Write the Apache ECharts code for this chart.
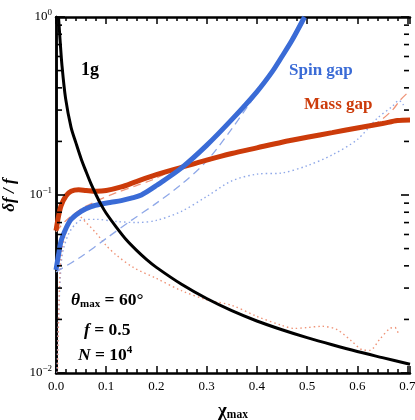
<!DOCTYPE html>
<html>
<head>
<meta charset="utf-8">
<script src="https://cdn.jsdelivr.net/npm/echarts@6/dist/echarts.min.js"></script>
<style>
  html, body { margin: 0; padding: 0; background: #fff; }
  #chart { width: 415px; height: 420px; }
</style>
</head>
<body>
<div id="chart"></div>
<script>
// values: [chi_max, delta f / f]
const black1g = [[0.005,1.0],[0.008,0.75],[0.012,0.53],[0.019,0.35],[0.03,0.24],[0.04,0.195],[0.05,0.16],[0.06,0.135],[0.07,0.115],[0.08,0.1],[0.09,0.088],[0.1,0.079],[0.12,0.066],[0.14,0.056],[0.16,0.049],[0.18,0.0435],[0.2,0.0392],[0.25,0.0315],[0.3,0.0262],[0.35,0.0224],[0.4,0.0196],[0.45,0.0175],[0.5,0.0158],[0.55,0.0144],[0.6,0.0132],[0.65,0.0122],[0.705,0.0112]];
const massGap = [[0.0,0.063],[0.005,0.076],[0.01,0.087],[0.02,0.099],[0.03,0.105],[0.045,0.107],[0.06,0.106],[0.08,0.105],[0.1,0.106],[0.13,0.111],[0.16,0.119],[0.2,0.13],[0.25,0.143],[0.3,0.157],[0.35,0.171],[0.4,0.184],[0.45,0.198],[0.5,0.211],[0.55,0.224],[0.6,0.238],[0.65,0.252],[0.68,0.262],[0.705,0.264]];
const spinGap = [[0.0,0.038],[0.005,0.046],[0.01,0.055],[0.02,0.065],[0.03,0.073],[0.05,0.081],[0.07,0.086],[0.09,0.089],[0.11,0.091],[0.13,0.093],[0.15,0.096],[0.17,0.1],[0.2,0.113],[0.25,0.142],[0.3,0.19],[0.35,0.265],[0.4,0.38],[0.43,0.49],[0.45,0.6],[0.47,0.74],[0.495,1.0]];
const spinDashed = [[0.0,0.037],[0.05,0.045],[0.1,0.057],[0.15,0.072],[0.2,0.09],[0.25,0.115],[0.3,0.155],[0.35,0.235],[0.38,0.31],[0.4,0.37],[0.43,0.49],[0.45,0.6],[0.47,0.74],[0.495,1.0]];
const massDashed = [[0.0,0.062],[0.02,0.072],[0.055,0.085],[0.09,0.095],[0.12,0.103],[0.16,0.113],[0.19,0.121],[0.23,0.136],[0.3,0.157],[0.4,0.184],[0.5,0.211],[0.6,0.238],[0.64,0.256],[0.67,0.3],[0.685,0.34],[0.698,0.37]];
const spinDotted = [[0.002,0.01],[0.005,0.02],[0.01,0.04],[0.015,0.05],[0.03,0.064],[0.055,0.073],[0.08,0.073],[0.12,0.071],[0.16,0.07],[0.2,0.072],[0.25,0.081],[0.3,0.098],[0.35,0.12],[0.4,0.131],[0.45,0.133],[0.5,0.146],[0.55,0.168],[0.6,0.205],[0.64,0.27],[0.67,0.315],[0.683,0.34],[0.692,0.32]];
const massDotted = [[0.003,0.01],[0.006,0.025],[0.01,0.045],[0.02,0.062],[0.03,0.072],[0.043,0.077],[0.06,0.07],[0.08,0.061],[0.1,0.052],[0.12,0.046],[0.155,0.039],[0.2,0.034],[0.25,0.029],[0.3,0.0258],[0.35,0.024],[0.4,0.0208],[0.45,0.0185],[0.475,0.0178],[0.5,0.018],[0.53,0.0183],[0.56,0.0175],[0.59,0.015],[0.61,0.0135],[0.625,0.0134],[0.645,0.0155],[0.665,0.0178],[0.675,0.018],[0.682,0.0166]];
const yMinorTicks = [0.02,0.03,0.04,0.05,0.06,0.07,0.08,0.09,0.2,0.3,0.4,0.5,0.6,0.7,0.8,0.9];
const yMajorTicks = [0.01, 0.1, 1];
const yTickLabels = { '1': '0', '0.1': '−1', '0.01': '−2' };

const X_MAX = 0.705;
const SERIF = '"Liberation Serif", "DejaVu Serif", serif';
const BLUE = '#3a6bd6';
const RED = '#cc3b0a';
const LIGHT_BLUE = '#8fa8e8';
const LIGHT_RED = '#ef9478';

const chart = echarts.init(document.getElementById('chart'));

const lineSeries = (data, color, width, type, z) => ({
  type: 'line',
  data: data,
  showSymbol: false,
  symbol: 'none',
  smooth: 0.3,
  clip: true,
  silent: true,
  z: z,
  lineStyle: { color: color, width: width, type: type }
});

const mathText = (left, top, text) => ({
  type: 'text', left: left, top: top,
  style: {
    text: text,
    rich: {
      i: { fontFamily: SERIF, fontSize: 17.5, fontWeight: 'bold', fontStyle: 'italic', fill: '#000', lineHeight: 20 },
      t: { fontFamily: SERIF, fontSize: 17.5, fontWeight: 'bold', fill: '#000', lineHeight: 20 },
      m: { fontFamily: SERIF, fontSize: 11, fontWeight: 'bold', fill: '#000', verticalAlign: 'bottom', lineHeight: 13 },
      s: { fontFamily: SERIF, fontSize: 11, fontWeight: 'bold', fill: '#000', verticalAlign: 'top', lineHeight: 11 }
    }
  }
});

// frame ticks for the log axis, placed through the y scale
const yTickSeries = (ticks, len) => ({
  type: 'custom',
  silent: true,
  clip: false,
  zlevel: 1,
  z: 10,
  data: ticks.map(v => [0, v]),
  renderItem: (params, api) => {
    const cs = params.coordSys;
    const y = api.coord([0, api.value(1)])[1];
    const x0 = cs.x + 1;
    const x1 = cs.x + cs.width - 1;
    return {
      type: 'group',
      children: [
        { type: 'line', shape: { x1: x0, y1: y, x2: x0 + len, y2: y }, style: { stroke: '#000', lineWidth: 1.6 } },
        { type: 'line', shape: { x1: x1 - len, y1: y, x2: x1, y2: y }, style: { stroke: '#000', lineWidth: 1.6 } }
      ]
    };
  }
});

const option = {
  animation: false,
  textStyle: { fontFamily: SERIF },
  grid: { left: 56, right: 5, top: 17, bottom: 47, containLabel: false, outerBoundsMode: 'none' },
  xAxis: [
    {
      type: 'value', min: 0, max: X_MAX, interval: 0.1,
      name: '{c|χ}{m|max}', nameLocation: 'middle', nameGap: 29,
      nameTextStyle: {
        rich: {
          c: { fontFamily: SERIF, fontSize: 19, fontWeight: 'bold', color: '#000' },
          m: { fontFamily: SERIF, fontSize: 11.5, fontWeight: 'bold', color: '#000', verticalAlign: 'bottom', padding: [7, 0, 0, 0] }
        }
      },
      axisLine: { lineStyle: { color: '#000', width: 2.5 } },
      axisTick: { inside: true, length: 7, lineStyle: { color: '#000', width: 1.5 } },
      minorTick: { show: true, splitNumber: 5, length: 4, lineStyle: { color: '#000', width: 1.5 } },
      splitLine: { show: false },
      axisLabel: {
        color: '#000', fontSize: 13, fontFamily: SERIF, margin: 7, showMaxLabel: true,
        formatter: v => (Math.abs(v * 10 - Math.round(v * 10)) < 1e-6 ? v.toFixed(1) : '')
      }
    },
    {
      type: 'value', min: 0, max: X_MAX, interval: 0.1, position: 'top',
      axisLine: { lineStyle: { color: '#000', width: 2.5 } },
      axisTick: { inside: true, length: 7, lineStyle: { color: '#000', width: 1.5 } },
      minorTick: { show: true, splitNumber: 5, length: 4, lineStyle: { color: '#000', width: 1.5 } },
      splitLine: { show: false },
      axisLabel: { show: false }
    }
  ],
  yAxis: [
    {
      type: 'log', logBase: 10, min: 0.01, max: 1, splitNumber: 2,
      name: '{i|δf / f}', nameLocation: 'middle', nameGap: 35, nameRotate: 90,
      nameTextStyle: {
        rich: { i: { fontFamily: SERIF, fontSize: 17, fontWeight: 'bold', fontStyle: 'italic', color: '#000' } }
      },
      axisLine: { lineStyle: { color: '#000', width: 2.5 } },
      axisTick: { show: false },
      splitLine: { show: false },
      axisLabel: {
        color: '#000', margin: 4,
        formatter: v => {
          const key = String(+v.toPrecision(3));
          return yTickLabels[key] ? '{b|10}{s|' + yTickLabels[key] + '}' : '';
        },
        rich: {
          b: { fontFamily: SERIF, fontSize: 13, color: '#000', lineHeight: 18 },
          s: { fontFamily: SERIF, fontSize: 9, color: '#000', verticalAlign: 'top', lineHeight: 10 }
        }
      }
    },
    {
      type: 'log', logBase: 10, min: 0.01, max: 1, splitNumber: 2, position: 'right',
      axisLine: { lineStyle: { color: '#000', width: 2.5 } },
      axisTick: { show: false },
      splitLine: { show: false },
      axisLabel: { show: false }
    }
  ],
  graphic: [
    { type: 'text', left: 81, top: 61, style: { text: '1g', font: 'bold 18px ' + SERIF, fill: '#000' } },
    { type: 'text', left: 289, top: 62, style: { text: 'Spin gap', font: 'bold 17px ' + SERIF, fill: BLUE } },
    { type: 'text', left: 304, top: 96, style: { text: 'Mass gap', font: 'bold 17px ' + SERIF, fill: RED } },
    mathText(71, 291, '{i|θ}{m|max}{t| = 60°}'),
    mathText(84, 321, '{i|f}{t| = 0.5}'),
    mathText(78, 345, '{i|N}{t| = 10}{s|4}')
  ],
  series: [
    lineSeries(spinDotted, LIGHT_BLUE, 1.4, [1.5, 3], 2),
    lineSeries(massDotted, LIGHT_RED, 1.4, [1.5, 3], 2),
    lineSeries(spinDashed, LIGHT_BLUE, 1.3, [8, 5], 3),
    lineSeries(massDashed, LIGHT_RED, 1.3, [8, 5], 3),
    lineSeries(massGap, RED, 5, 'solid', 4),
    lineSeries(spinGap, BLUE, 5, 'solid', 5),
    lineSeries(black1g, '#000', 3, 'solid', 6),
    yTickSeries(yMinorTicks, 5),
    yTickSeries(yMajorTicks, 8)
  ]
};

chart.setOption(option);
</script>
</body>
</html>
